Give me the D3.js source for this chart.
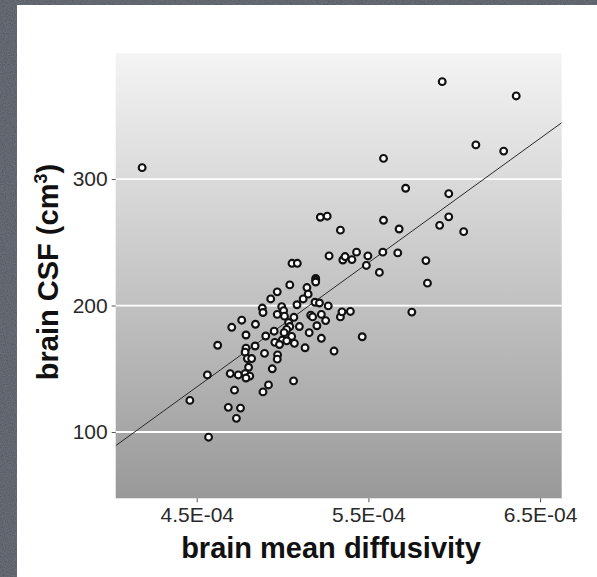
<!DOCTYPE html>
<html>
<head>
<meta charset="utf-8">
<script src="https://cdn.jsdelivr.net/npm/d3@7"></script>
<style>
  html, body { margin: 0; padding: 0; background: #525761; }
  svg { display: block; }
</style>
</head>
<body>
<svg id="chart" width="597" height="577"></svg>
<script>
// ---- data (x in units of 1E-04 mm²/s, y in cm³) ----
const diffusivity = [
  4.182, 5.930, 6.361, 6.126, 6.288, 5.588, 5.717, 5.968, 5.220, 5.260,
  5.588, 5.915, 5.968, 5.679, 6.055, 5.337, 5.271, 5.351, 5.364, 5.404,
  5.431, 5.497, 5.488, 5.584, 5.671, 5.564, 5.835, 5.844, 5.753, 5.464,
  5.300, 5.337, 5.395, 5.346, 5.055, 5.086, 5.193, 5.193, 5.193, 5.042,
  4.969, 4.931, 5.142, 5.149, 5.120, 5.189, 5.215, 5.266, 5.084, 4.995,
  5.006, 4.882, 4.886, 4.969, 5.011, 5.066, 5.035, 5.164, 5.175, 5.226,
  5.251, 5.200, 4.762, 4.704, 4.842, 4.787, 4.902, 4.951, 5.042, 5.024,
  5.098, 5.155, 5.226, 5.053, 4.998, 4.955, 4.982, 5.069, 5.131, 4.840,
  4.787, 4.782, 4.622, 4.895, 4.971, 4.969, 4.795, 4.820, 4.802, 4.562,
  4.695, 4.742, 4.782, 4.809, 4.787, 4.940, 5.064, 4.918, 4.720, 4.886,
  4.460, 4.684, 4.755, 4.731, 4.569, 5.009, 5.024
];
const csf = [
  309.0, 377.0, 365.7, 327.0, 322.1, 316.3, 292.7, 288.4, 269.8, 270.6,
  267.4, 263.4, 270.1, 260.5, 258.4, 259.6, 239.2, 236.0, 238.7, 236.3,
  242.2, 239.2, 231.7, 242.2, 241.6, 226.2, 235.5, 217.7, 194.8, 175.3,
  164.0, 191.0, 195.3, 195.0, 233.4, 233.4, 221.5, 220.1, 218.6, 216.3,
  210.8, 205.2, 214.2, 209.0, 205.2, 202.6, 202.0, 199.7, 200.6, 199.1,
  195.9, 198.0, 194.5, 193.0, 191.6, 190.7, 186.6, 192.4, 191.0, 193.0,
  188.1, 184.0, 188.4, 182.8, 185.2, 176.7, 175.9, 179.7, 183.4, 181.1,
  183.4, 178.5, 174.1, 175.6, 172.7, 170.9, 169.2, 170.1, 166.6, 168.0,
  166.3, 163.1, 168.6, 162.2, 161.0, 157.6, 158.1, 158.1, 151.2, 145.1,
  146.2, 145.1, 146.2, 144.2, 142.7, 150.0, 140.4, 137.2, 133.1, 131.7,
  125.0, 119.5, 118.9, 110.8, 95.9, 178.5, 172.1
];
// fitted regression line (end points across the panel)
const fitX = [4.028, 6.626];
const fitY = [89.2, 344.5];
// axis ticks
const xTicks = [4.5, 5.5, 6.5];
const xTickLabels = ["4.5E-04", "5.5E-04", "6.5E-04"];
const yTicks = [100, 200, 300];
const xDomain = [4.028, 6.626];
const yDomain = [47.6, 399.4];

const xTitle = "brain mean diffusivity";

// ---- drawing ----
const svg = d3.select("#chart");
const W = 597, H = 577;
const plot = { left: 115.7, right: 561.7, top: 53.3, bottom: 498.3 };
const FONT = "'Liberation Sans', Arial, Helvetica, sans-serif";

const defs = svg.append("defs");
// textured backdrop
const f = defs.append("filter").attr("id", "noise").attr("x", 0).attr("y", 0).attr("width", "100%").attr("height", "100%");
f.append("feTurbulence").attr("type", "fractalNoise").attr("baseFrequency", 0.9).attr("numOctaves", 2).attr("seed", 3).attr("result", "n");
f.append("feColorMatrix").attr("in", "n").attr("type", "matrix")
  .attr("values", "0 0 0 0 0.32  0 0 0 0 0.34  0 0 0 0 0.38  0 0 0 0.35 0").attr("result", "c");
f.append("feComposite").attr("in", "c").attr("in2", "SourceGraphic").attr("operator", "over");

const grad = defs.append("linearGradient").attr("id", "panelGrad")
  .attr("x1", 0).attr("y1", 0).attr("x2", 0).attr("y2", 1);
grad.append("stop").attr("offset", "0%").attr("stop-color", "#f4f4f4");
grad.append("stop").attr("offset", "100%").attr("stop-color", "#999999");

svg.append("rect").attr("width", W).attr("height", H).attr("fill", "#50555f").attr("filter", "url(#noise)");
svg.append("rect").attr("x", 17).attr("y", 5).attr("width", W - 17).attr("height", H - 5).attr("fill", "#ffffff");

const x = d3.scaleLinear().domain(xDomain).range([plot.left, plot.right]);
const y = d3.scaleLinear().domain(yDomain).range([plot.bottom, plot.top]);

svg.append("rect")
  .attr("x", plot.left).attr("y", plot.top)
  .attr("width", plot.right - plot.left).attr("height", plot.bottom - plot.top)
  .attr("fill", "url(#panelGrad)");

// gridlines
svg.append("g").selectAll("line").data(yTicks).join("line")
  .attr("x1", plot.left).attr("x2", plot.right)
  .attr("y1", d => y(d)).attr("y2", d => y(d))
  .attr("stroke", "#ffffff").attr("stroke-width", 1.8);

// x axis
const xAxis = d3.axisBottom(x).tickValues(xTicks)
  .tickFormat((d, i) => xTickLabels[i]).tickSize(4).tickPadding(5);
const gx = svg.append("g").attr("transform", `translate(0,${plot.bottom})`).call(xAxis);
gx.select(".domain").remove();
gx.selectAll(".tick line").attr("stroke", "#555").attr("stroke-width", 1);
gx.selectAll(".tick text").attr("font-family", FONT).attr("font-size", 21).attr("fill", "#2a2a2a");

// y axis
const yAxis = d3.axisLeft(y).tickValues(yTicks).tickSize(4).tickPadding(4);
const gy = svg.append("g").attr("transform", `translate(${plot.left},0)`).call(yAxis);
gy.select(".domain").remove();
gy.selectAll(".tick line").attr("stroke", "#555").attr("stroke-width", 1);
gy.selectAll(".tick text").attr("font-family", FONT).attr("font-size", 21).attr("fill", "#2a2a2a");

// regression line
const clip = defs.append("clipPath").attr("id", "plotClip");
clip.append("rect").attr("x", plot.left).attr("y", plot.top)
  .attr("width", plot.right - plot.left).attr("height", plot.bottom - plot.top);
svg.append("path")
  .datum(fitX.map((d, i) => [d, fitY[i]]))
  .attr("clip-path", "url(#plotClip)")
  .attr("d", d3.line().x(d => x(d[0])).y(d => y(d[1])))
  .attr("fill", "none").attr("stroke", "#2a2a2a").attr("stroke-width", 1);

// points
svg.append("g").selectAll("circle").data(diffusivity.map((d, i) => [d, csf[i]])).join("circle")
  .attr("cx", d => x(d[0])).attr("cy", d => y(d[1])).attr("r", 3.4)
  .attr("fill", "#ffffff").attr("stroke", "#111111").attr("stroke-width", 2.1);

// axis titles
svg.append("text")
  .attr("x", 331).attr("y", 558)
  .attr("text-anchor", "middle")
  .attr("font-family", FONT).attr("font-weight", "bold").attr("font-size", 29)
  .attr("fill", "#111").text(xTitle);

const yt = svg.append("text")
  .attr("transform", "translate(58,272) rotate(-90)")
  .attr("text-anchor", "middle")
  .attr("font-family", FONT).attr("font-weight", "bold").attr("font-size", 29)
  .attr("fill", "#111");
yt.append("tspan").text("brain CSF (cm");
yt.append("tspan").attr("font-size", 18).attr("dy", -11).text("3");
yt.append("tspan").attr("dy", 11).text(")");
</script>
</body>
</html>
